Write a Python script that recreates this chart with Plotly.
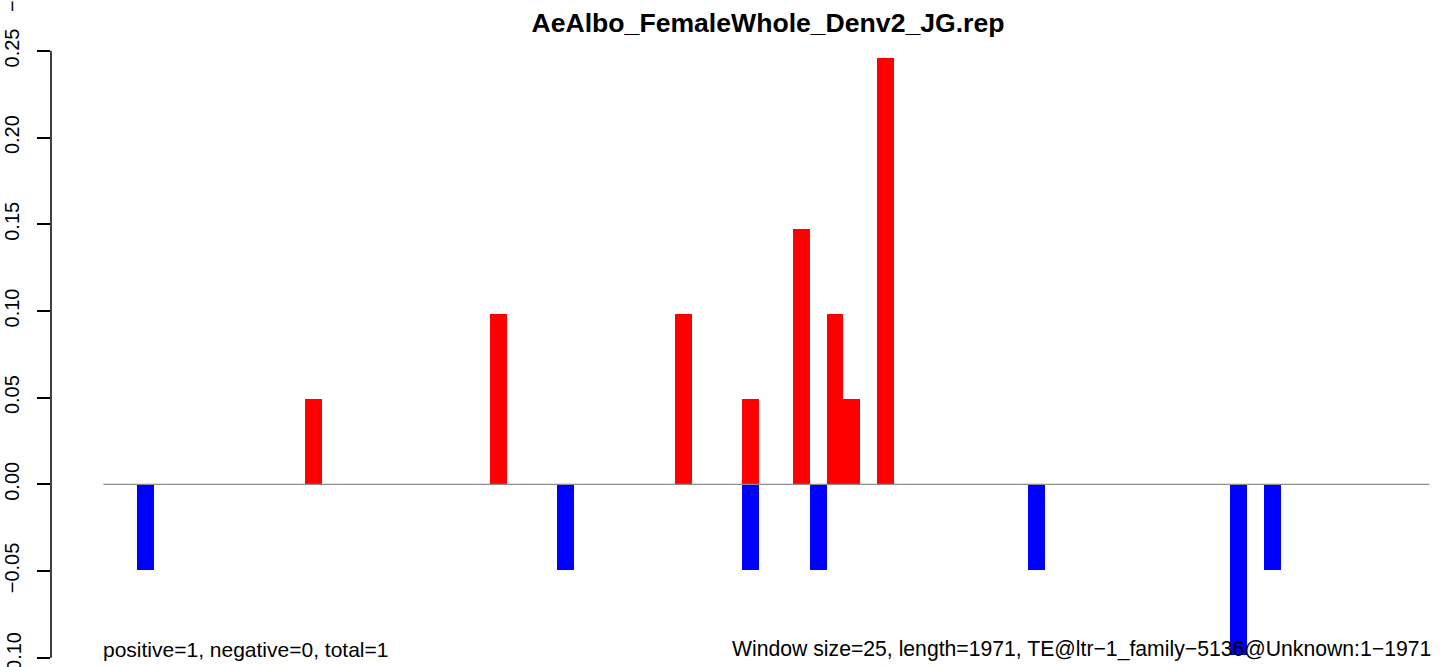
import plotly.graph_objects as go

# ---- data ----
title_text = "AeAlbo_FemaleWhole_Denv2_JG.rep"
window_size = 25
seq_length = 1971

pos_starts = [300, 575, 850, 950, 1025, 1075, 1100, 1150]
pos_values = [0.0492, 0.0984, 0.0984, 0.0492, 0.1475, 0.0984, 0.0492, 0.2459]

neg_starts = [50, 675, 950, 1050, 1375, 1675, 1725]
neg_values = [-0.0492, -0.0492, -0.0492, -0.0492, -0.0492, -0.0984, -0.0492]

y_tick_vals = [-0.10, -0.05, 0.00, 0.05, 0.10, 0.15, 0.20, 0.25]
y_tick_text = ["\u22120.10", "\u22120.05", "0.00", "0.05", "0.10", "0.15", "0.20", "0.25"]

left_note = "positive=1, negative=0, total=1"
right_note = "Window size=25, length=1971, TE@ltr\u22121_family\u22125136@Unknown:1\u22121971"

FONT = "Liberation Sans, Arial, Helvetica, sans-serif"

W, H = 1444, 667
ML, MR, MT, MB = 51, 0, 27, 0
PW, PH = W - ML - MR, H - MT - MB

fig = go.Figure()
fig.add_trace(go.Bar(x=pos_starts, y=pos_values, width=window_size, offset=0,
                     marker=dict(color="#ff0000", line=dict(width=0)), showlegend=False))
fig.add_trace(go.Bar(x=neg_starts, y=neg_values, width=window_size, offset=0,
                     marker=dict(color="#0000ff", line=dict(width=0)), showlegend=False))
# zero reference line spanning the sequence
fig.add_trace(go.Scatter(x=[0, seq_length], y=[0, 0], mode="lines",
                         line=dict(color="#8c8c8c", width=1.3), showlegend=False,
                         hoverinfo="skip"))

def px_to_paper_y(py):
    return (H - MB - py) / PH

def px_to_paper_x(px):
    return (px - ML) / PW

# bottom tick label is partly cut off by the page edge (as in the reference); draw it as text
shown_tick_text = [""] + y_tick_text[1:]

fig.update_layout(
    width=W, height=H,
    margin=dict(l=ML, r=MR, t=MT, b=MB, autoexpand=False),
    paper_bgcolor="white", plot_bgcolor="white",
    barmode="overlay", bargap=0,
    font=dict(family=FONT, color="black", size=20),
    title=dict(text=title_text, x=px_to_paper_x(768), xref="paper", xanchor="center",
               y=1 - 23 / H, yref="container", yanchor="middle",
               font=dict(family=FONT, size=26.6, weight="bold", color="black")),
    xaxis=dict(range=[-77.9, 1992.8], visible=False, showgrid=False, zeroline=False),
    yaxis=dict(range=[-(H - MB - 484.3) / 1733.3, (484.3 - MT) / 1733.3],
               tickvals=y_tick_vals, ticktext=shown_tick_text, tickangle=-90,
               ticks="outside", ticklen=13, tickwidth=1.5, tickcolor="black",
               showgrid=False, zeroline=False, showline=False,
               tickfont=dict(family=FONT, size=20, color="black"),
               ticklabelstandoff=10, automargin=False),
    shapes=[dict(type="line", xref="paper", yref="y", x0=0, x1=0,
                 y0=y_tick_vals[0], y1=y_tick_vals[-1],
                 line=dict(color="black", width=1.5), layer="above")],
    annotations=[
        dict(text=left_note, xref="x", yref="paper", x=0, y=px_to_paper_y(649),
             xanchor="left", yanchor="middle", showarrow=False, xshift=-2,
             font=dict(family=FONT, size=21, color="black")),
        dict(text=right_note, xref="x", yref="paper", x=seq_length, y=px_to_paper_y(649),
             xanchor="right", yanchor="middle", showarrow=False, xshift=4,
             font=dict(family=FONT, size=21.2, color="black")),
        dict(text=y_tick_text[0], xref="paper", yref="y", x=px_to_paper_x(14),
             y=y_tick_vals[0], xanchor="center", yanchor="middle", textangle=-90,
             showarrow=False, font=dict(family=FONT, size=20, color="black")),
        dict(text="\u2212", xref="paper", yref="paper", x=px_to_paper_x(12),
             y=px_to_paper_y(6), xanchor="center", yanchor="middle", textangle=-90,
             showarrow=False, font=dict(family=FONT, size=20, color="black")),
    ],
)

fig.write_html("out.html", config={"displayModeBar": False},
               post_script="document.body.style.margin='0';document.body.style.overflow='hidden';")
